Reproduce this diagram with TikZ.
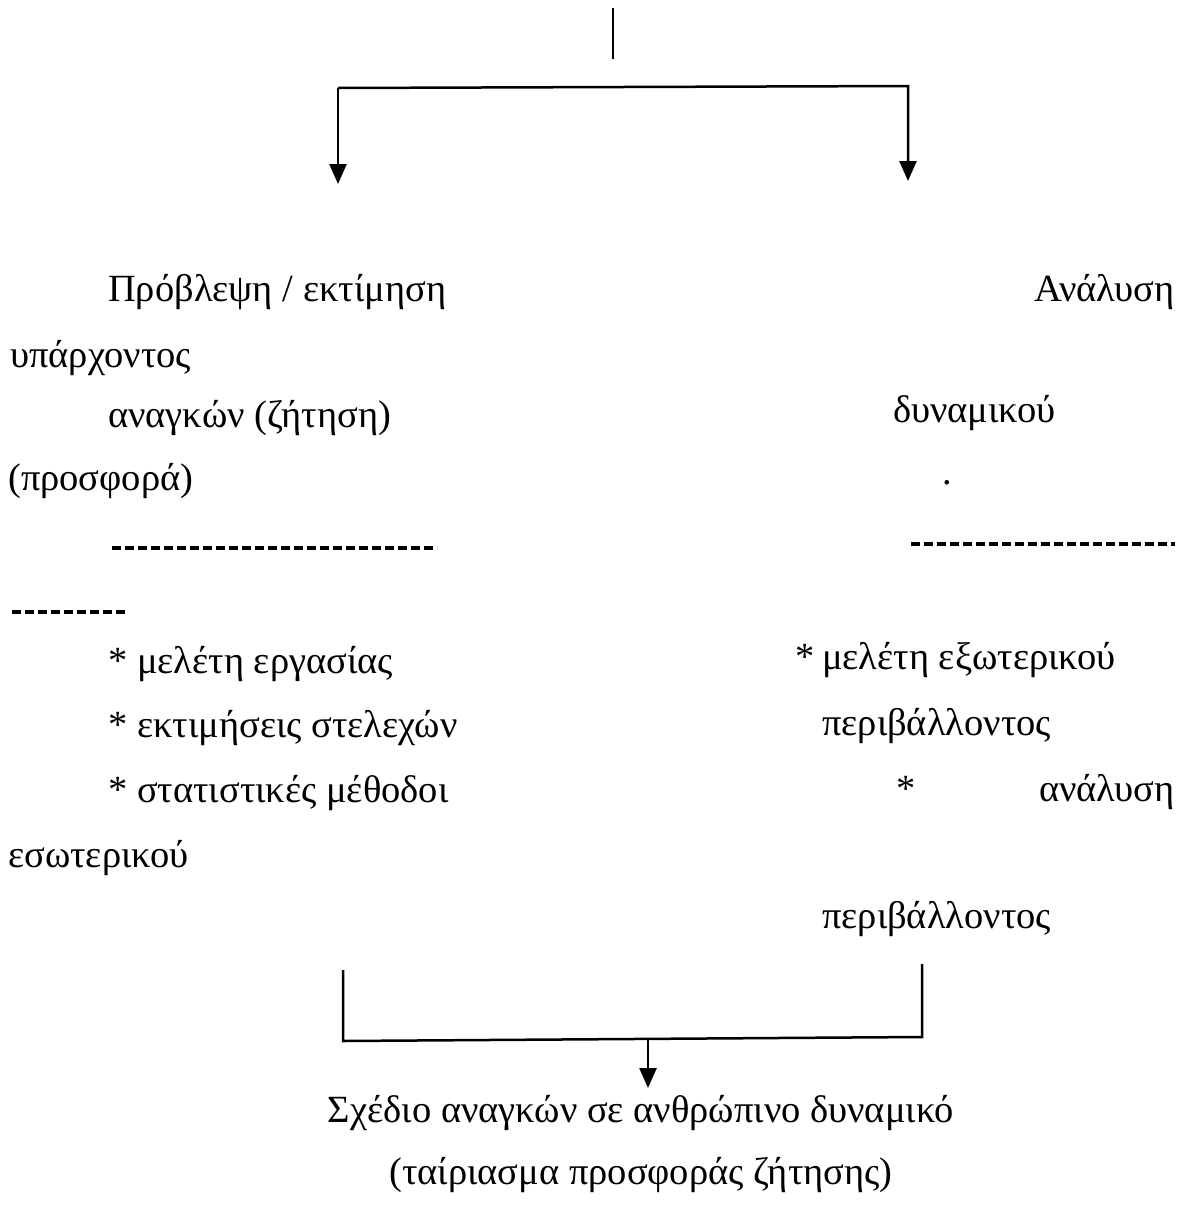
\documentclass[tikz,border=0pt]{standalone}
\usepackage{fontspec}
\setmainfont{Liberation Serif}
\usetikzlibrary{arrows.meta}
\begin{document}
\begin{tikzpicture}[x=1pt,y=-1pt,
  txt/.style={inner sep=0pt,font=\fontsize{38.5}{44}\selectfont},
  lw/.style={anchor=base west,txt},
  le/.style={anchor=base east,txt},
  lc/.style={anchor=base,txt},
  conn/.style={line width=2.5pt},
  arr/.style={conn,-{Triangle[length=20pt,width=17pt]}},
  dsh/.style={line width=3.4pt,dash pattern=on 9pt off 4pt}]
\useasboundingbox[fill=white] (0,0) rectangle (1185,1208);
% top connectors
\coordinate (t0) at (613,8);
\coordinate (t1) at (613,59);
\coordinate (sl) at (338,88);
\coordinate (sr) at (908,86);
\coordinate (al) at (338,184);
\coordinate (ar) at (908,181);
\draw[conn] (t0) -- (t1);
\draw[arr] (al |- sl) -- (sl) -- (sr) -- (ar);
\draw[arr] (sl) -- (al);
% left column
\node[lw] (l1) at (108,301) {Πρόβλεψη / εκτίμηση};
\node[lw] (l2) at (10,367) {υπάρχοντος};
\node[lw] (l3) at (108,427) {αναγκών (ζήτηση)};
\node[lw] (l4) at (8,490) {(προσφορά)};
\coordinate (d1a) at (112,548);
\coordinate (d1b) at (437,548);
\draw[dsh] (d1a) -- (d1b);
\coordinate (d2a) at (12,612);
\coordinate (d2b) at (125,612);
\draw[dsh] (d2a) -- (d2b);
\node[lw] (l5) at (108,673) {* μελέτη εργασίας};
\node[lw] (l6) at (108,737) {* εκτιμήσεις στελεχών};
\node[lw] (l7) at (108,802) {* στατιστικές μέθοδοι};
\node[lw] (l8) at (8,867) {εσωτερικού};
% right column
\node[le] (r1) at (1175,301) {Ανάλυση};
\node[lw] (r2) at (893,422) {δυναμικού};
\node[lw] (r2b) at (942,484) {.};
\coordinate (d3a) at (911,544);
\coordinate (d3b) at (1175,544);
\draw[dsh] (d3a) -- (d3b);
\node[lw] (r3) at (795,669) {*\hspace{-2pt} μελέτη εξωτερικού};
\node[lw] (r4) at (822,735) {περιβάλλοντος};
\node[lw] (r5a) at (896,801) {*};
\node[le] (r5b) at (1175,801) {ανάλυση};
\node[lw] (r6) at (822,928) {περιβάλλοντος};
% bottom connector
\coordinate (bl) at (343,970);
\coordinate (br) at (922,964);
\coordinate (blc) at (343,1041);
\coordinate (brc) at (922,1037);
\coordinate (bm) at (648,1039);
\coordinate (bt) at (648,1088);
\draw[conn] (bl) -- (blc) -- (brc) -- (br);
\draw[arr] (bm) -- (bt);
% bottom text
\node[lc] (b1) at (641,1122) {Σχέδιο αναγκών σε ανθρώπινο δυναμικό};
\node[lc] (b2) at (641,1184) {(ταίριασμα προσφοράς ζήτησης)};
\end{tikzpicture}
\end{document}
